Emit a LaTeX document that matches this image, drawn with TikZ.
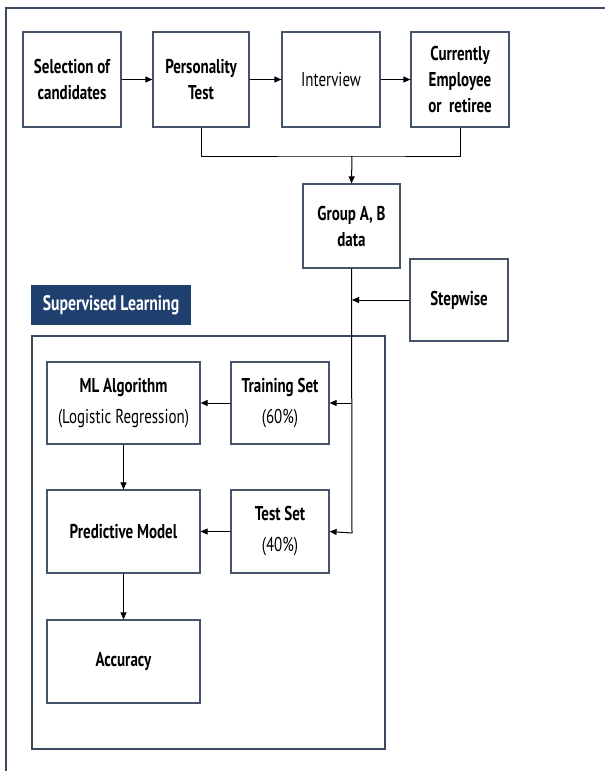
\documentclass[tikz,border=0pt]{standalone}
\usepackage{fontspec}
\setmainfont[FakeStretch=0.75]{PT Sans}
\usetikzlibrary{arrows.meta}
\definecolor{frame}{HTML}{3C4A60}
\definecolor{boxc}{HTML}{46546A}
\definecolor{slblue}{HTML}{1F3F6E}
\begin{document}
\begin{tikzpicture}[x=1pt,y=-1pt,
  bx/.style={draw=boxc,line width=1.2pt,fill=white,inner sep=0pt,align=center,font=\fontsize{20}{26}\selectfont\bfseries},
  nb/.style={font=\fontsize{20}{26}\selectfont},
  lead/.style={font=\fontsize{20}{31}\selectfont\bfseries},
  arr/.style={-{Triangle[length=7pt,width=6pt]},line width=1pt,black},
  ln/.style={line width=1pt,black}]
\useasboundingbox (0,0) rectangle (605,771);
\fill[white] (0,0) rectangle (605,771);
\draw[frame,line width=1.5pt] (6,8) rectangle (612,778);
% top row
\node[bx,minimum width=98pt,minimum height=95pt] (sel) at (72,79.5) {Selection of\\candidates};
\node[bx,minimum width=96pt,minimum height=95pt] (pers) at (201,79.5) {Personality\\Test};
\node[bx,nb,minimum width=98pt,minimum height=95pt] (int) at (331,79.5) {Interview};
\node[bx,minimum width=98pt,minimum height=95pt] (cur) at (460,79.5) {Currently\\Employee\\or\ \ retiree};
\draw[arr] (sel) -- (pers);
\draw[arr] (pers) -- (int);
\draw[arr] (int) -- (cur);
% group
\node[bx,minimum width=97pt,minimum height=84pt] (grp) at (351.5,226) {Group A, B\\data};
\coordinate (m) at (352,156);
\draw[ln] (pers.south) |- (m) -| (cur.south);
\draw[arr] (m) -- (grp.north);
% stepwise
\node[bx,minimum width=98pt,minimum height=82pt] (stp) at (459,300) {Stepwise};
% supervised label
\node[fill=slblue,text=white,inner sep=0pt,minimum width=160pt,minimum height=40pt,font=\fontsize{21}{24}\selectfont\bfseries] (sl) at (111,305) {Supervised Learning};
% inner frame
\draw[frame,line width=1.5pt] (32,336) rectangle (385,749);
% inner boxes
\node[bx,lead,minimum width=153pt,minimum height=82pt] (ml) at (123.5,403) {ML Algorithm\\\mdseries(Logistic Regression)};
\node[bx,lead,minimum width=98pt,minimum height=82pt] (tr) at (280,403) {Training Set\\\mdseries(60\%)};
\node[bx,minimum width=153pt,minimum height=83pt] (pm) at (123.5,531.5) {Predictive Model};
\node[bx,lead,minimum width=98pt,minimum height=83pt] (ts) at (280,531.5) {Test Set\\\mdseries(40\%)};
\node[bx,minimum width=153pt,minimum height=83pt] (acc) at (123.5,661.5) {Accuracy};
% connectors
\coordinate (vt) at (352,403);
\coordinate (vb) at (352,533);
\draw[ln] (grp.south) -- (vb);
\draw[arr] (stp.west) -- (352,300);
\draw[arr] (vt) -- (tr.east);
\draw[arr] (vb) -- (ts.east);
\draw[arr] (tr) -- (ml);
\draw[arr] (ts) -- (pm);
\draw[arr] (ml) -- (pm);
\draw[arr] (pm) -- (acc);
\end{tikzpicture}
\end{document}
